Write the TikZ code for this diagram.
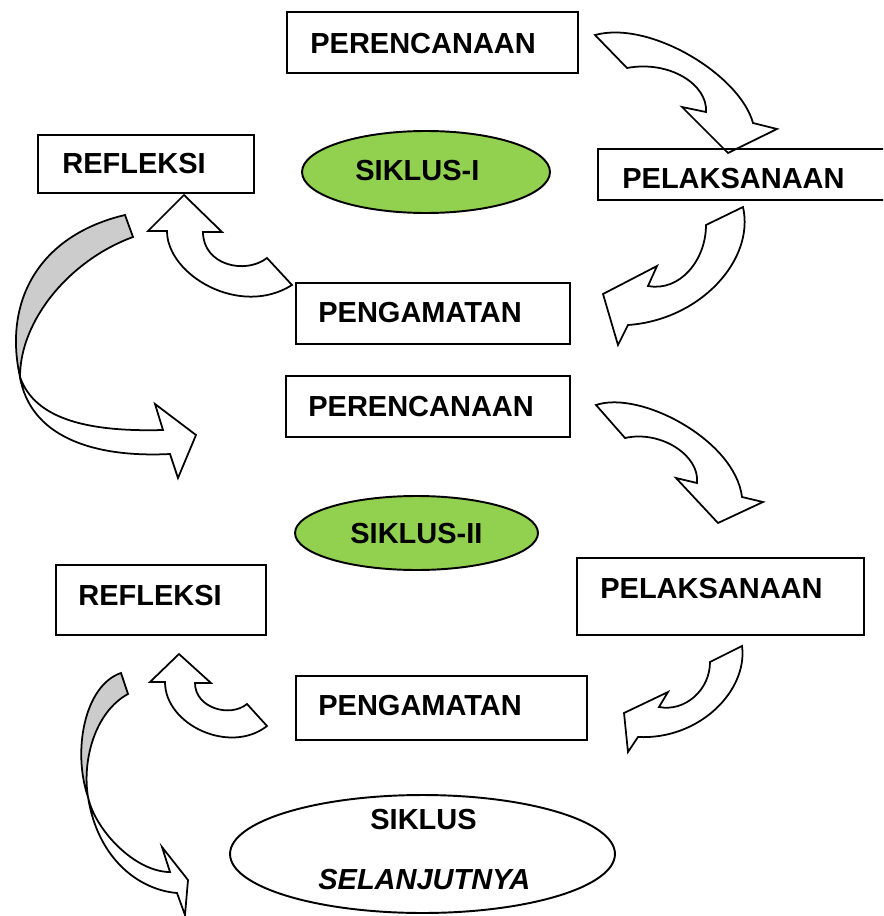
\documentclass[tikz,border=0pt]{standalone}
\usepackage{fontspec}
\setmainfont{Liberation Sans}
\usetikzlibrary{shapes.geometric,fit}
\definecolor{siklusgreen}{RGB}{146,208,80}
\definecolor{ribbongrey}{RGB}{204,204,204}
\begin{document}
\begin{tikzpicture}[x=0.02cm,y=-0.02cm,
  box/.style={draw,line width=1.1pt,inner sep=0pt},
  lbl/.style={anchor=base west,inner sep=0pt,font=\fontsize{16.5}{19}\selectfont\bfseries},
  oval/.style={ellipse,draw,line width=1.1pt,inner sep=0pt},
  blockarrow/.style={draw,line width=1pt,fill=white,line join=miter},
  ribbonback/.style={draw,line width=1pt,fill=ribbongrey,line join=miter}]
\clip (0,0) rectangle (883,916);

% ---------- curved block arrows ----------
% Perencanaan I -> Pelaksanaan I
\draw[blockarrow] (595,35) .. controls (650,20) and (740,75) .. (753,123)
  -- (777,129) -- (728,153) -- (682,107) -- (706,112)
  .. controls (708,85) and (670,60) .. (627,68) -- cycle;
% Pelaksanaan I -> Pengamatan I
\draw[blockarrow] (743,207) .. controls (755,260) and (700,320) .. (628,325)
  -- (618,345) -- (603,294) -- (657,266) -- (648,286)
  .. controls (680,292) and (706,260) .. (706,225) -- cycle;
% Pengamatan I -> Refleksi I
\draw[blockarrow] (184,195) -- (148,231) -- (167,231)
  .. controls (167,275) and (240,318) .. (292,285)
  -- (267,258) .. controls (245,275) and (203,265) .. (203,232)
  -- (222,232) -- cycle;
% Refleksi I -> Siklus II (ribbon)
\draw[ribbonback] (125,215) -- (133,237)
  .. controls (70,260) and (20,320) .. (20,377)
  .. controls (3,300) and (40,235) .. (125,215) -- cycle;
\draw[blockarrow] (20,377) .. controls (30,435) and (90,458) .. (170,454)
  -- (178,478) -- (196,435) -- (155,404) -- (163,430)
  .. controls (90,432) and (35,420) .. (20,377) -- cycle;
% Perencanaan II -> Pelaksanaan II
\draw[blockarrow] (596,405) .. controls (640,390) and (735,440) .. (742,497)
  -- (763,502) -- (718,523) -- (676,478) -- (697,483)
  .. controls (700,455) and (660,430) .. (625,438) -- cycle;
% Pelaksanaan II -> Pengamatan II
\draw[blockarrow] (742,646) .. controls (748,690) and (700,740) .. (638,737)
  -- (628,752) -- (624,713) -- (668,692) -- (659,707)
  .. controls (685,712) and (710,690) .. (710,662) -- cycle;
% Pengamatan II -> Refleksi II
\draw[blockarrow] (179,654) -- (150,682) -- (165,682)
  .. controls (165,725) and (230,755) .. (267,726)
  -- (247,704) .. controls (230,718) and (195,708) .. (195,683)
  -- (211,683) -- cycle;
% Refleksi II -> Siklus selanjutnya (ribbon)
\draw[ribbonback] (121,673) -- (128,694)
  .. controls (95,712) and (82,760) .. (88,797)
  .. controls (72,750) and (85,685) .. (121,673) -- cycle;
\draw[blockarrow] (88,797) .. controls (98,860) and (140,890) .. (177,893)
  -- (185,915) -- (188,880) -- (162,847) -- (170,872)
  .. controls (135,872) and (95,830) .. (88,797) -- cycle;

% ---------- boxes ----------
\node[box,fit={(287,12) (578,73)}] (per1) {};
\node[box,fit={(38,135) (254,193)}] (ref1) {};
\node[box,fit={(598,149) (900,200)}] (pel1) {};
\node[box,fit={(296,283) (570,344)}] (pen1) {};
\node[box,fit={(286,376) (570,437)}] (per2) {};
\node[box,fit={(56,565) (266,635)}] (ref2) {};
\node[box,fit={(577,558) (864,635)}] (pel2) {};
\node[box,fit={(296,676) (587,740)}] (pen2) {};

% ---------- ellipses ----------
\node[oval,fill=siklusgreen,minimum width=4.96cm,minimum height=1.64cm] (sik1) at (426,172) {};
\node[oval,fill=siklusgreen,minimum width=4.86cm,minimum height=1.48cm] (sik2) at (416.5,533) {};
\node[oval,fill=white,minimum width=7.7cm,minimum height=2.36cm] (sikn) at (422.5,854) {};

% ---------- labels ----------
\node[lbl] (tper1) at (310,53) {PERENCANAAN};
\node[lbl] (tref1) at (62,173) {REFLEKSI};
\node[lbl] (tsik1) at (355,180) {SIKLUS-I};
\node[lbl] (tpel1) at (622,188) {PELAKSANAAN};
\node[lbl] (tpen1) at (318,322) {PENGAMATAN};
\node[lbl] (tper2) at (308,416) {PERENCANAAN};
\node[lbl] (tsik2) at (350,543) {SIKLUS-II};
\node[lbl] (tref2) at (78,605) {REFLEKSI};
\node[lbl] (tpel2) at (600,598) {PELAKSANAAN};
\node[lbl] (tpen2) at (318,715) {PENGAMATAN};
\node[lbl] (tsikn) at (370,829) {SIKLUS};
\node[lbl,font=\fontsize{16.5}{19}\selectfont\bfseries\itshape] (tsel) at (318,889) {SELANJUTNYA};
\end{tikzpicture}
\end{document}
